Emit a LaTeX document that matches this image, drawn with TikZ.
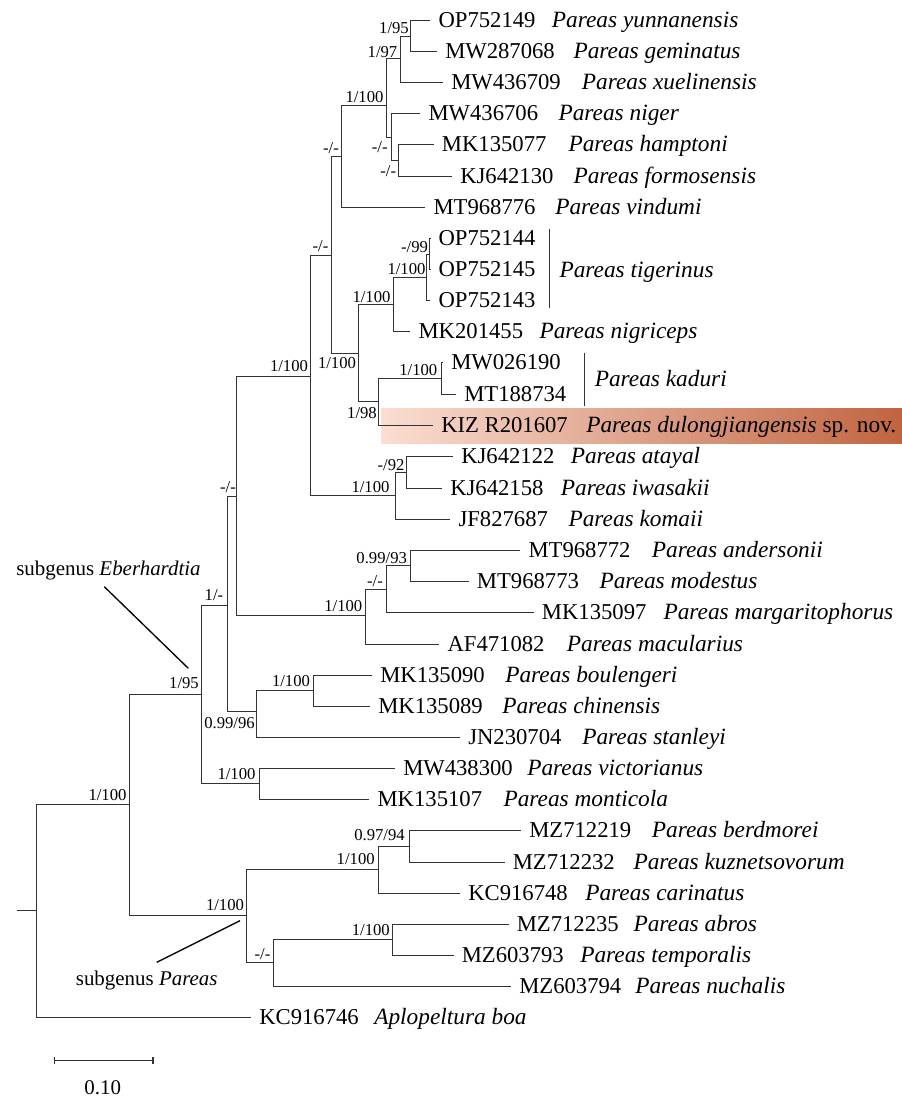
\documentclass[tikz,border=0pt]{standalone}
\usepackage{fontspec}
\setmainfont{Liberation Serif}
\usetikzlibrary{arrows.meta}
\definecolor{hlLeft}{RGB}{250,222,210}
\definecolor{hlRight}{RGB}{193,100,64}
\tikzset{
  br/.style={line width=0.8pt,black!80},
  leaf/.style={anchor=west,inner xsep=6pt,inner ysep=0pt,text height=11.2pt,text depth=0pt,font=\fontsize{17}{20}\selectfont},
  spec/.style={anchor=west,inner sep=0pt,text height=11.2pt,text depth=0pt,font=\fontsize{17.5}{20}\selectfont\itshape},
  supp/.style={inner sep=0pt,font=\fontsize{12.5}{14}\selectfont},
  ann/.style={inner sep=0pt,font=\fontsize{15.7}{18}\selectfont}
}

\begin{document}
\begin{tikzpicture}[x=0.75pt,y=-0.75pt]
\useasboundingbox (0,0) rectangle (902,1099);
\shade[left color=hlLeft,right color=hlRight] (381,408) rectangle (902,443);

% inner nodes
\coordinate (stub) at (16.5,910.5);
\coordinate (root) at (36.5,910.5);
\coordinate (G) at (129.5,804.5);
\coordinate (E) at (201.5,694.5);
\coordinate (X) at (227.5,605.5);
\coordinate (Y) at (236.5,496.5);
\coordinate (Z) at (310.5,376.5);
\coordinate (W) at (331.5,255.5);
\coordinate (V) at (341.5,156.5);
\coordinate (A) at (386.5,105.5);
\coordinate (B) at (400.5,58.5);
\coordinate (B1) at (410.5,36.5);
\coordinate (C) at (391.5,137.5);
\coordinate (C1) at (398.5,160.5);
\coordinate (U) at (358.5,353.5);
\coordinate (T) at (393.5,304.5);
\coordinate (Tg) at (426.5,277.5);
\coordinate (Tg1) at (429.5,254.5);
\coordinate (K98) at (378.5,401.5);
\coordinate (Kd) at (441.5,378.5);
\coordinate (At) at (395.5,495.5);
\coordinate (At1) at (406.5,472.5);
\coordinate (An) at (365.5,615.5);
\coordinate (An1) at (386.5,589.5);
\coordinate (An2) at (410.5,565.5);
\coordinate (S) at (256.5,711.5);
\coordinate (S1) at (313.5,690.5);
\coordinate (Vi) at (259.5,783.5);
\coordinate (P) at (246.5,915.5);
\coordinate (Pb) at (378.5,869.5);
\coordinate (Pb1) at (409.5,846.5);
\coordinate (Pn) at (273.5,962.5);
\coordinate (Pa) at (392.5,939.5);

% leaves
\node[leaf] (l1) at (430.3,20.5) {OP752149};
\node[spec] (s1) at (551.7,20.5) {Pareas yunnanensis};
\node[leaf] (l2) at (437,51.5) {MW287068};
\node[spec] (s2) at (573.3,51.5) {Pareas geminatus};
\node[leaf] (l3) at (443,82.5) {MW436709};
\node[spec] (s3) at (581.7,82.5) {Pareas xuelinensis};
\node[leaf] (l4) at (420.3,113.5) {MW436706};
\node[spec] (s4) at (558.3,113.5) {Pareas niger};
\node[leaf] (l5) at (433.7,144.5) {MK135077};
\node[spec] (s5) at (568.3,144.5) {Pareas hamptoni};
\node[leaf] (l6) at (452,176.5) {KJ642130};
\node[spec] (s6) at (573.3,176.5) {Pareas formosensis};
\node[leaf] (l7) at (425.3,207.5) {MT968776};
\node[spec] (s7) at (555,207.5) {Pareas vindumi};
\node[leaf] (l8) at (430.3,238.5) {OP752144};
\node[leaf] (l9) at (430.3,269.5) {OP752145};
\node[leaf] (l10) at (430.3,300.5) {OP752143};
\node[leaf] (l11) at (410.3,331.5) {MK201455};
\node[spec] (s11) at (539.3,331.5) {Pareas nigriceps};
\node[leaf] (l12) at (443,362.5) {MW026190};
\node[leaf] (l13) at (456,394.5) {MT188734};
\node[leaf] (l14) at (433,425.5) {KIZ R201607};
\node[spec] (s14) at (586,425.5) {Pareas dulongjiangensis\upshape{} sp. nov.};
\node[leaf] (l15) at (453,456.5) {KJ642122};
\node[spec] (s15) at (570.5,456.5) {Pareas atayal};
\node[leaf] (l16) at (442,488.5) {KJ642158};
\node[spec] (s16) at (560.6,488.5) {Pareas iwasakii};
\node[leaf] (l17) at (450.3,519.5) {JF827687};
\node[spec] (s17) at (568.3,519.5) {Pareas komaii};
\node[leaf] (l18) at (520.3,550.5) {MT968772};
\node[spec] (s18) at (651.7,550.5) {Pareas andersonii};
\node[leaf] (l19) at (468.7,581.5) {MT968773};
\node[spec] (s19) at (599.3,581.5) {Pareas modestus};
\node[leaf] (l20) at (533.7,612.5) {MK135097};
\node[spec] (s20) at (663.3,612.5) {Pareas margaritophorus};
\node[leaf] (l21) at (439.3,644.5) {AF471082};
\node[spec] (s21) at (566.7,644.5) {Pareas macularius};
\node[leaf] (l22) at (372,675.5) {MK135090};
\node[spec] (s22) at (505,675.5) {Pareas boulengeri};
\node[leaf] (l23) at (370,706.5) {MK135089};
\node[spec] (s23) at (502,706.5) {Pareas chinensis};
\node[leaf] (l24) at (460,737.5) {JN230704};
\node[spec] (s24) at (582,737.5) {Pareas stanleyi};
\node[leaf] (l25) at (395,768.5) {MW438300};
\node[spec] (s25) at (527,768.5) {Pareas victorianus};
\node[leaf] (l26) at (369.3,799.5) {MK135107};
\node[spec] (s26) at (503.3,799.5) {Pareas monticola};
\node[leaf] (l27) at (521,830.5) {MZ712219};
\node[spec] (s27) at (651.7,830.5) {Pareas berdmorei};
\node[leaf] (l28) at (504.5,862.5) {MZ712232};
\node[spec] (s28) at (633.3,862.5) {Pareas kuznetsovorum};
\node[leaf] (l29) at (460,893.5) {KC916748};
\node[spec] (s29) at (585,893.5) {Pareas carinatus};
\node[leaf] (l30) at (508.5,924.5) {MZ712235};
\node[spec] (s30) at (633.3,924.5) {Pareas abros};
\node[leaf] (l31) at (453.5,955.5) {MZ603793};
\node[spec] (s31) at (580,955.5) {Pareas temporalis};
\node[leaf] (l32) at (511,986.5) {MZ603794};
\node[spec] (s32) at (635,986.5) {Pareas nuchalis};
\node[leaf] (l33) at (251,1017.5) {KC916746};
\node[spec] (s33) at (374,1017.5) {Aplopeltura boa};

% branches
\draw[br] (stub) -- (root);
\draw[br] (root) |- (G); \draw[br] (root) |- (l33.west);
\draw[br] (G) |- (E); \draw[br] (G) |- (P);
\draw[br] (E) |- (X); \draw[br] (E) |- (Vi);
\draw[br] (X) |- (Y); \draw[br] (X) |- (S);
\draw[br] (Y) |- (Z); \draw[br] (Y) |- (An);
\draw[br] (Z) |- (W); \draw[br] (Z) |- (At);
\draw[br] (W) |- (V); \draw[br] (W) |- (U);
\draw[br] (V) |- (A); \draw[br] (V) |- (l7.west);
\draw[br] (A) |- (B); \draw[br] (A) |- (C);
\draw[br] (B) |- (B1); \draw[br] (B) |- (l3.west);
\draw[br] (B1) |- (l1.west); \draw[br] (B1) |- (l2.west);
\draw[br] (C) |- (l4.west); \draw[br] (C) |- (C1);
\draw[br] (C1) |- (l5.west); \draw[br] (C1) |- (l6.west);
\draw[br] (U) |- (T); \draw[br] (U) |- (K98);
\draw[br] (T) |- (Tg); \draw[br] (T) |- (l11.west);
\draw[br] (Tg) |- (Tg1); \draw[br] (Tg) |- (l10.west);
\draw[br] (Tg1) |- (l8.west); \draw[br] (Tg1) |- (l9.west);
\draw[br] (K98) |- (Kd); \draw[br] (K98) |- (l14.west);
\draw[br] (Kd) |- (l12.west); \draw[br] (Kd) |- (l13.west);
\draw[br] (At) |- (At1); \draw[br] (At) |- (l17.west);
\draw[br] (At1) |- (l15.west); \draw[br] (At1) |- (l16.west);
\draw[br] (An) |- (An1); \draw[br] (An) |- (l21.west);
\draw[br] (An1) |- (An2); \draw[br] (An1) |- (l20.west);
\draw[br] (An2) |- (l18.west); \draw[br] (An2) |- (l19.west);
\draw[br] (S) |- (S1); \draw[br] (S) |- (l24.west);
\draw[br] (S1) |- (l22.west); \draw[br] (S1) |- (l23.west);
\draw[br] (Vi) |- (l25.west); \draw[br] (Vi) |- (l26.west);
\draw[br] (P) |- (Pb); \draw[br] (P) |- (Pn);
\draw[br] (Pb) |- (Pb1); \draw[br] (Pb) |- (l29.west);
\draw[br] (Pb1) |- (l27.west); \draw[br] (Pb1) |- (l28.west);
\draw[br] (Pn) |- (Pa); \draw[br] (Pn) |- (l32.west);
\draw[br] (Pa) |- (l30.west); \draw[br] (Pa) |- (l31.west);

% support values
\node[supp] (bB1) at (394,28.3) {1/95};
\node[supp] (bB) at (382.5,51.7) {1/97};
\node[supp] (bA) at (364.5,96.7) {1/100};
\node[supp] (bC) at (379.7,146.7) {-/-};
\node[supp] (bC1) at (388.3,170.7) {-/-};
\node[supp] (bV) at (331,148) {-/-};
\node[supp] (bW) at (320.5,245.7) {-/-};
\node[supp] (bZ) at (289,366) {1/100};
\node[supp] (bTg1) at (414.5,247.3) {-/99};
\node[supp] (bTg) at (406.5,269) {1/100};
\node[supp] (bT) at (371.5,296.7) {1/100};
\node[supp] (bU) at (337,362.7) {1/100};
\node[supp] (bKd) at (418.3,370) {1/100};
\node[supp] (bK98) at (362,412.7) {1/98};
\node[supp] (bAt1) at (391,465) {-/92};
\node[supp] (bAt) at (370.5,487) {1/100};
\node[supp] (bY) at (228,487) {-/-};
\node[supp] (bAn) at (343.3,606) {1/100};
\node[supp] (bAn1) at (375,580.7) {-/-};
\node[supp] (bAn2) at (381.7,557.7) {0.99/93};
\node[supp] (bX) at (214,595) {1/-};
\node[supp] (bE) at (184,683.3) {1/95};
\node[supp] (bS) at (229.5,723.3) {0.99/96};
\node[supp] (bS1) at (291,680.7) {1/100};
\node[supp] (bVi) at (236.5,774) {1/100};
\node[supp] (bG) at (107.5,795) {1/100};
\node[supp] (bP) at (225,905) {1/100};
\node[supp] (bPb) at (355.7,859.3) {1/100};
\node[supp] (bPb1) at (379.5,835) {0.97/94};
\node[supp] (bPn) at (262.5,954) {-/-};
\node[supp] (bPa) at (370.8,930) {1/100};

% clade bars
\coordinate (tgTop) at (549.5,228.5);
\coordinate (tgBot) at (549.5,307.5);
\draw[br] (tgTop) -- (tgBot);
\node[spec] (stg) at (559.3,270) {Pareas tigerinus};
\coordinate (kdTop) at (584.5,352.5);
\coordinate (kdBot) at (584.5,405.5);
\draw[br] (kdTop) -- (kdBot);
\node[spec] (skd) at (594.5,379) {Pareas kaduri};

% subgenera
\node[ann] (eber) at (108.5,570.7) {subgenus \textit{Eberhardtia}};
\coordinate (eberA) at (104.3,586.7);
\coordinate (eberB) at (188.3,668.3);
\draw[line width=1pt] (eberA) -- (eberB);
\node[ann] (par) at (146.7,980) {subgenus \textit{Pareas}};
\coordinate (parA) at (156.7,962.3);
\coordinate (parB) at (240,920.7);
\draw[line width=1pt] (parA) -- (parB);

% scale
\coordinate (sbL) at (53.5,1060.5);
\coordinate (sbR) at (153.5,1060.5);
\draw[br,{Bar[width=5pt]}-{Bar[width=5pt]}] (sbL) -- (sbR);
\node[ann] (sbT) at (102.7,1088) {0.10};
\end{tikzpicture}
\end{document}
